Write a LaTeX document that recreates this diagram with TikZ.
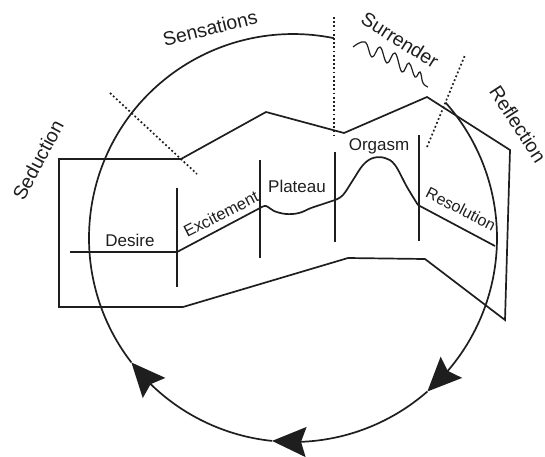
\documentclass[tikz,border=0pt]{standalone}
\usepackage{fontspec}
\setmainfont{Liberation Sans}
\usetikzlibrary{arrows.meta,bending,calc}
\definecolor{ink}{HTML}{1E1E1E}
\begin{document}
\begin{tikzpicture}[x=1pt,y=-1pt,
    line/.style={ink,line width=1.7pt},
    thinline/.style={ink,line width=1.2pt},
    dots/.style={ink,line width=1.7pt,dash pattern=on 1.8pt off 2.4pt},
    tip/.style={-{Stealth[length=34pt,width=30pt,inset=5pt]}},
    phase/.style={font=\fontsize{17}{20}\selectfont,text=ink,inner sep=0pt},
    stage/.style={font=\fontsize{19.5}{22}\selectfont,text=ink,inner sep=0pt}]
  \useasboundingbox (0,0) rectangle (545,456);
  \pgfmathsetmacro\rad{204}
  \coordinate (c) at (293,238);
  % the cycle, drawn clockwise with a gap at the top
  \draw[line,tip] ($(c)+(-41.6:\rad)$) arc[start angle=-41.6,end angle=48.8,radius=\rad];
  \draw[line,tip] ($(c)+(48.8:\rad)$) arc[start angle=48.8,end angle=95.9,radius=\rad];
  \draw[line,tip] ($(c)+(95.9:\rad)$) arc[start angle=95.9,end angle=142.4,radius=\rad];
  \draw[line] ($(c)+(142.4:\rad)$) arc[start angle=142.4,end angle=281.6,radius=\rad];
  % outer frame
  \draw[line] (59,159) -- (181,159) -- (266,112) -- (344,133) -- (427,97)
    -- (510,150) -- (505,320) -- (425,259) -- (348,258) -- (183,307)
    -- (59,307) -- cycle;
  % phase borders
  \draw[line] (177,188) -- (177,287);
  \draw[line] (260,160) -- (260,258);
  \draw[line] (335,152) -- (335,242);
  \draw[line] (419,135) -- (419,241);
  % response curve
  \draw[line] (70,252) -- (177,252) -- (260,208);
  \draw[line] plot[smooth,tension=0.6] coordinates {(260,208) (266,206) (274,211)
    (286,214) (299,213) (311,208) (323,204) (335,200)};
  \draw[line] plot[smooth,tension=0.6] coordinates {(335,200) (343,195) (353,180)
    (363,165) (373,158) (385,158) (395,165) (407,187) (418,205)};
  \draw[line] (418,205) -- (495,246);
  % stage borders
  \draw[dots] (110,93) -- (197,174);
  \draw[dots] (334,17) -- (334,137);
  \draw[dots] (427,147) -- (465,55);
  % squiggle
  \draw[thinline] plot[smooth,tension=0.7] coordinates {(353,47) (365,42) (372,57)
    (380,47) (387,63) (395,53) (402,72) (409,63) (415,77) (420,72) (423,83) (428,87)};
  % labels
  \node[stage,rotate=62] (seduction) at (38,160) {Seduction};
  \node[stage,rotate=14] (sensations) at (210,28) {Sensations};
  \node[stage,rotate=-32] (surrender) at (400,40) {Surrender};
  \node[stage,rotate=-57] (reflection) at (518,124) {Reflection};
  \node[phase] (desire) at (130,240) {Desire};
  \node[phase,rotate=27,font=\fontsize{16.5}{20}\selectfont] (excitement) at (221,214) {Excitement};
  \node[phase] (plateau) at (297,186) {Plateau};
  \node[phase] (orgasm) at (379,146) {Orgasm};
  \node[phase,rotate=-27,font=\fontsize{16}{19}\selectfont] (resolution) at (461,209) {Resolution};
\end{tikzpicture}
\end{document}
